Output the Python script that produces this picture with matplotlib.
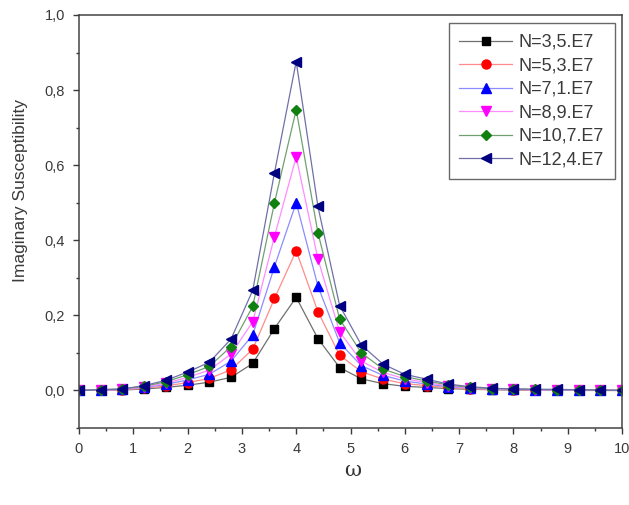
import numpy as np
import matplotlib
matplotlib.use("Agg")
import matplotlib.pyplot as plt
from matplotlib.ticker import MultipleLocator, FuncFormatter

plt.rcParams['font.family'] = ['Liberation Sans', 'DejaVu Sans']

# omega values where the markers sit
omega = [0.0, 0.4, 0.8, 1.2, 1.6, 2.0, 2.4, 2.8, 3.2, 3.6, 4.0, 4.4, 4.8,
         5.2, 5.6, 6.0, 6.4, 6.8, 7.2, 7.6, 8.0, 8.4, 8.8, 9.2, 9.6, 10.0]

# imaginary susceptibility, one list per density
chi_35 = [0.0, 0.0005, 0.001, 0.004, 0.008, 0.014, 0.022, 0.035, 0.072, 0.165, 0.248,
          0.138, 0.061, 0.031, 0.018, 0.011, 0.008, 0.005, 0.003, 0.002, 0.001, 0.001,
          0.001, 0.0, 0.0, 0.0]
chi_53 = [0.0, 0.001, 0.002, 0.006, 0.012, 0.021, 0.032, 0.055, 0.11, 0.245, 0.372,
          0.21, 0.094, 0.05, 0.03, 0.018, 0.013, 0.008, 0.004, 0.003, 0.002, 0.001,
          0.001, 0.001, 0.0, 0.0]
chi_71 = [0.0, 0.001, 0.003, 0.008, 0.016, 0.028, 0.043, 0.078, 0.148, 0.33, 0.50,
          0.278, 0.127, 0.066, 0.04, 0.025, 0.017, 0.01, 0.006, 0.004, 0.003, 0.002,
          0.001, 0.001, 0.001, 0.0]
chi_89 = [0.0, 0.001, 0.003, 0.009, 0.019, 0.035, 0.054, 0.097, 0.183, 0.41, 0.622,
          0.35, 0.156, 0.078, 0.048, 0.031, 0.021, 0.012, 0.007, 0.004, 0.003, 0.002,
          0.002, 0.001, 0.001, 0.0]
chi_107 = [0.0, 0.002, 0.004, 0.011, 0.023, 0.042, 0.064, 0.117, 0.224, 0.50, 0.748,
           0.42, 0.19, 0.10, 0.057, 0.037, 0.025, 0.015, 0.008, 0.005, 0.004, 0.003,
           0.002, 0.002, 0.001, 0.0]
chi_124 = [0.0, 0.002, 0.004, 0.013, 0.027, 0.049, 0.075, 0.137, 0.267, 0.58, 0.876,
           0.49, 0.226, 0.121, 0.07, 0.043, 0.03, 0.017, 0.01, 0.006, 0.004, 0.003,
           0.003, 0.002, 0.001, 0.0]

labels = ['N=3,5.E7', 'N=5,3.E7', 'N=7,1.E7', 'N=8,9.E7', 'N=10,7.E7', 'N=12,4.E7']
series = [chi_35, chi_53, chi_71, chi_89, chi_107, chi_124]
markers = ['s', 'o', '^', 'v', 'D', '<']
mcolors = ['#000000', '#ff0000', '#0000ff', '#ff00ff', '#108010', '#000080']
lcolors = ['#707070', '#ff8c8c', '#8c8cff', '#ff8cff', '#70a070', '#7070a8']
msizes = [5.5, 6.5, 6.5, 6.5, 5.5, 6.5]

fig = plt.figure(figsize=(6.29, 5.05), dpi=100)
ax = fig.add_axes([79 / 629, 1 - 428 / 505, 543 / 629, 413 / 505])

for y, lab, m, mc, lc, ms in zip(series, labels, markers, mcolors, lcolors, msizes):
    ax.plot(omega, y, color=lc, lw=0.9, marker=m, markersize=ms,
            markerfacecolor=mc, markeredgecolor=mc, label=lab)

ax.set_xlim(0, 10)
ax.set_ylim(-0.1, 1.0)
ax.xaxis.set_major_locator(MultipleLocator(1))
ax.xaxis.set_minor_locator(MultipleLocator(0.5))
ax.yaxis.set_major_locator(MultipleLocator(0.2))
ax.yaxis.set_minor_locator(MultipleLocator(0.1))
ax.yaxis.set_major_formatter(FuncFormatter(lambda v, p: f"{v:.1f}".replace('.', ',')))
ax.xaxis.set_major_formatter(FuncFormatter(lambda v, p: f"{v:.0f}"))

ax.tick_params(which='major', direction='out', length=4, width=1, labelsize=10.5,
               colors='#3a3a3a', pad=6)
ax.tick_params(which='minor', direction='out', length=2.5, width=1, colors='#3a3a3a')
for s in ax.spines.values():
    s.set_color('#444444')
    s.set_linewidth(1.1)

ax.set_ylabel('Imaginary Susceptibility', fontsize=12.5, color='#3a3a3a')
ax.yaxis.set_label_coords(-0.094, 0.576)
ax.set_xlabel('ω', fontsize=15, color='#333333', family=['DejaVu Serif'])
ax.xaxis.set_label_coords(0.503, -0.08)

leg = ax.legend(loc='upper right', bbox_to_anchor=(615 / 629, 1 - 23 / 505),
                bbox_transform=fig.transFigure, fontsize=13,
                frameon=True, fancybox=False, edgecolor='#444444',
                handlelength=2.9, handletextpad=0.4, labelspacing=0.36,
                borderpad=0.6, borderaxespad=0)
leg.get_frame().set_linewidth(1.0)
for t in leg.get_texts():
    t.set_color('#3a3a3a')

fig.savefig('out.png', dpi=100)
